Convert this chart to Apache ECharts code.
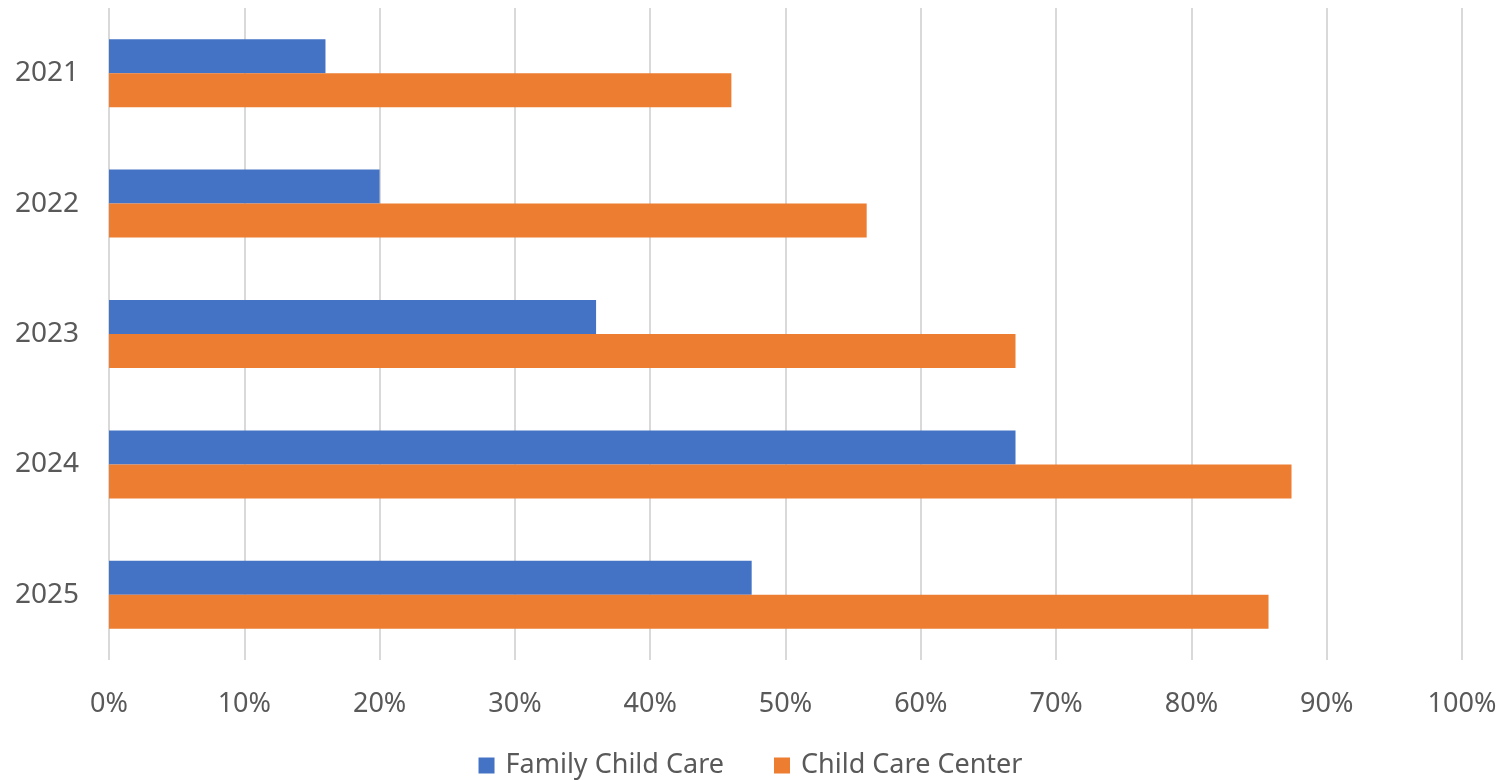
<!DOCTYPE html>
<html>
<head>
<meta charset="utf-8">
<script src="https://cdn.jsdelivr.net/npm/echarts@6/dist/echarts.min.js"></script>
<style>
  html, body { margin: 0; padding: 0; background: #fff; }
  #chart { width: 1501px; height: 780px; }
</style>
</head>
<body>
<div id="chart"></div>
<script>
// Years shown on the category axis, top to bottom
const years = ['2021', '2022', '2023', '2024', '2025'];
// Share (%) by provider type
const familyChildCare = [16, 20, 36, 67, 47.5];
const childCareCenter = [46, 56, 67, 87.4, 85.7];
// Value axis ticks (%)
const xTicks = { min: 0, max: 100, interval: 10 };

const textColor = '#595959';
const fontFamily = '"Noto Sans", "Open Sans", sans-serif';

const chart = echarts.init(document.getElementById('chart'), null, { renderer: 'canvas' });
chart.setOption({
  animation: false,
  backgroundColor: '#ffffff',
  grid: { left: 109, right: 39, top: 8, bottom: 120, containLabel: false },
  legend: {
    bottom: -4,
    left: 'center',
    itemWidth: 16,
    itemHeight: 16,
    itemGap: 50,
    icon: 'rect',
    textStyle: { color: textColor, fontSize: 27, fontFamily: fontFamily, padding: [0, 0, 0, 6] },
    data: ['Family Child Care', 'Child Care Center']
  },
  xAxis: {
    type: 'value',
    min: xTicks.min,
    max: xTicks.max,
    interval: xTicks.interval,
    axisLine: { show: false },
    axisTick: { show: false },
    splitLine: { show: true, lineStyle: { color: '#d9d9d9', width: 2 } },
    axisLabel: {
      formatter: '{value}%',
      color: textColor,
      fontSize: 27,
      fontFamily: fontFamily,
      margin: 31
    }
  },
  yAxis: {
    type: 'category',
    data: years,
    inverse: true,
    axisLine: { show: false },
    axisTick: { show: false },
    splitLine: { show: false },
    axisLabel: {
      color: textColor,
      fontSize: 28,
      fontFamily: fontFamily,
      margin: 30
    }
  },
  series: [
    {
      name: 'Family Child Care',
      type: 'bar',
      data: familyChildCare,
      barWidth: 34,
      barGap: '0%',
      itemStyle: { color: '#4472C4' }
    },
    {
      name: 'Child Care Center',
      type: 'bar',
      data: childCareCenter,
      barWidth: 34,
      barGap: '0%',
      itemStyle: { color: '#ED7D31' }
    }
  ]
});
</script>
</body>
</html>
